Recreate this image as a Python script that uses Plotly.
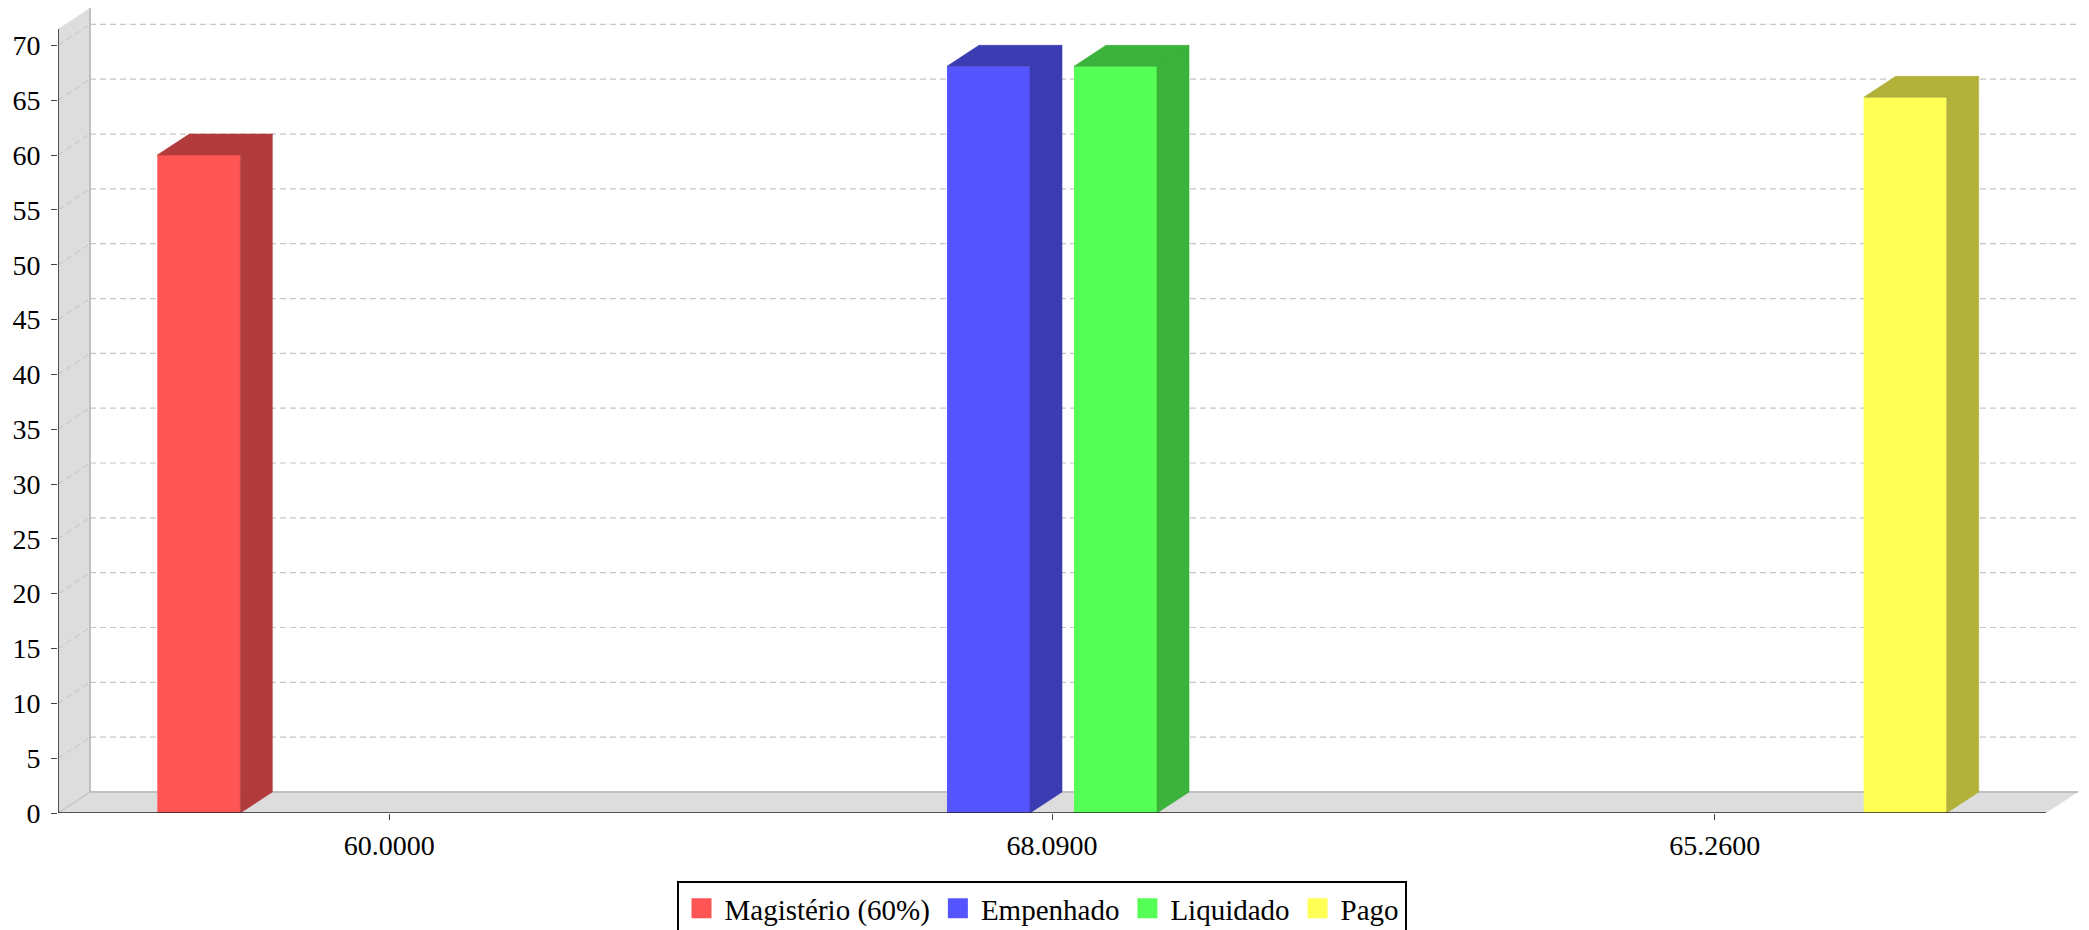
import plotly.graph_objects as go

# ---------------- data ----------------
categories = ["60.0000", "68.0900", "65.2600"]
series_names = ["Magistério (60%)", "Empenhado", "Liquidado", "Pago"]
magisterio = [60.0, None, None]
empenhado = [None, 68.09, None]
liquidado = [None, 68.09, None]
pago = [None, None, 65.26]
y_ticks = list(range(0, 75, 5))

front_colors = ["#FF5555", "#5555FF", "#55FF55", "#FFFF55"]
side_colors = ["#B23B3B", "#3B3BB2", "#3BB23B", "#B2B23B"]

series_values = [magisterio, empenhado, liquidado, pago]

# ---------------- style / geometry ----------------
FONT = "Liberation Serif"
BARGAP = 0.2333
GROUPGAP = 0.3465
DX = 0.0483   # 3D depth, category units
DY = 1.915    # 3D depth, value units
WALL = "#DDDDDD"
EDGE = "#C0C0C0"
GRID = "#C6C6C6"
PAGE_OFF = 8  # default body margin of the html page
W, H = 2089 - PAGE_OFF, 930 - PAGE_OFF

x_pos = list(range(len(categories)))
n = len(series_values)
slot = (1 - BARGAP) / n
bw = slot * (1 - GROUPGAP)
all_vals = [v for s in series_values for v in s if v is not None]
axis_max = max(all_vals) * 1.05
x_lo, x_hi = -0.5, len(categories) - 0.5

fig = go.Figure()

# front faces
for name, vals, col in zip(series_names, series_values, front_colors):
    fig.add_trace(go.Bar(x=x_pos, y=vals, name=name, marker=dict(color=col, line=dict(width=0)),
                         showlegend=False, hoverinfo="y"))

# side + top faces
for i, (vals, col) in enumerate(zip(series_values, side_colors)):
    xs, ys = [], []
    for j, v in enumerate(vals):
        if v is None:
            continue
        c = x_pos[j] + (i - (n - 1) / 2) * slot
        xl, xr = c - bw / 2, c + bw / 2
        xs += [xr, xr + DX, xr + DX, xr, xr, None]
        ys += [0, DY, v + DY, v, 0, None]
        xs += [xl, xl + DX, xr + DX, xr, xl, None]
        ys += [v, v + DY, v + DY, v, v, None]
    fig.add_trace(go.Scatter(x=xs, y=ys, mode="lines", fill="toself", fillcolor=col,
                             line=dict(width=0.6, color=col), showlegend=False, hoverinfo="skip"))

# legend entries
for name, col in zip(series_names, front_colors):
    fig.add_trace(go.Scatter(x=[None], y=[None], mode="markers", name=name,
                             marker=dict(symbol="square", size=16, color=col,
                                         line=dict(width=4, color=col))))

shapes = []
# walls
shapes.append(dict(type="path", xref="x", yref="y", layer="below",
                   path=f"M {x_lo},0 L {x_lo},{axis_max} L {x_lo+DX},{axis_max+DY} L {x_lo+DX},{DY} Z",
                   fillcolor=WALL, line=dict(width=0)))
shapes.append(dict(type="path", xref="x", yref="y", layer="below",
                   path=f"M {x_lo},0 L {x_lo+DX},{DY} L {x_hi+DX},{DY} L {x_hi},0 Z",
                   fillcolor=WALL, line=dict(width=0)))
# grid lines on back wall and left wall
for v in y_ticks:
    if v == 0:
        continue
    shapes.append(dict(type="line", xref="x", yref="y", layer="below",
                       x0=x_lo + DX, x1=x_hi + DX, y0=v + DY, y1=v + DY,
                       line=dict(color=GRID, width=1.2, dash="6px,4px")))
    shapes.append(dict(type="line", xref="x", yref="y", layer="below",
                       x0=x_lo, x1=x_lo + DX, y0=v, y1=v + DY,
                       line=dict(color="#CACACA", width=1.2, dash="6px,4px")))
# wall edges
shapes.append(dict(type="line", xref="x", yref="y", layer="below",
                   x0=x_lo + DX, x1=x_lo + DX, y0=DY, y1=axis_max + DY,
                   line=dict(color=EDGE, width=2)))
shapes.append(dict(type="line", xref="x", yref="y", layer="below",
                   x0=x_lo + DX, x1=x_hi + DX, y0=DY, y1=DY,
                   line=dict(color=EDGE, width=2)))
shapes.append(dict(type="line", xref="x", yref="y", layer="below",
                   x0=x_lo, x1=x_lo + DX, y0=0, y1=DY,
                   line=dict(color="#C8C8C8", width=1.5)))
# axis lines
shapes.append(dict(type="line", xref="x", yref="y", layer="above",
                   x0=x_lo, x1=x_lo, y0=0, y1=axis_max, line=dict(color="#222222", width=1.5)))
shapes.append(dict(type="line", xref="x", yref="y", layer="above",
                   x0=x_lo, x1=x_hi, y0=0, y1=0, line=dict(color="#222222", width=1.5)))

fig.update_layout(
    width=W, height=H,
    margin=dict(l=58 - PAGE_OFF, r=11 - PAGE_OFF + PAGE_OFF, t=0, b=930 - 812.7),
    paper_bgcolor="white", plot_bgcolor="white",
    barmode="group", bargap=BARGAP, bargroupgap=GROUPGAP,
    font=dict(family=FONT, size=28, color="black"),
    shapes=shapes,
    showlegend=True,
    legend=dict(orientation="h", xref="container", yref="container",
                x=(1041.5 - PAGE_OFF) / W, xanchor="center", y=1 - (881 - PAGE_OFF) / H, yanchor="top",
                bordercolor="black", borderwidth=2, bgcolor="white", itemwidth=36,
                font=dict(family=FONT, size=29, color="black"),
                itemclick=False, itemdoubleclick=False),
    xaxis=dict(range=[x_lo, x_hi + DX], tickmode="array", tickvals=x_pos, ticktext=categories,
               ticks="outside", ticklen=6, tickcolor="#444444", showgrid=False, zeroline=False,
               showline=False, fixedrange=True, ticklabelstandoff=1,
               tickfont=dict(family=FONT, size=28, color="black")),
    yaxis=dict(range=[0, axis_max + DY], tickmode="array", tickvals=y_ticks,
               ticks="outside", ticklen=6, tickcolor="#444444", showgrid=False, zeroline=False,
               showline=False, fixedrange=True, ticklabelstandoff=5,
               tickfont=dict(family=FONT, size=28, color="black")),
)

fig.write_html("out.html")
